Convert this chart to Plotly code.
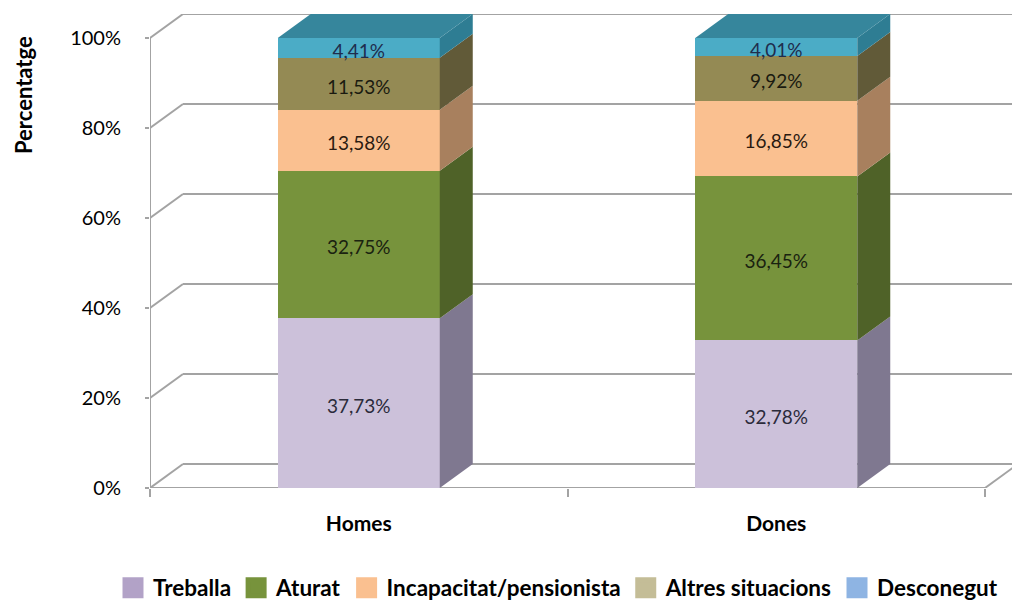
import plotly.graph_objects as go
import numpy as np

categories = ["Homes", "Dones"]
series_names = ["Treballa", "Aturat", "Incapacitat/pensionista", "Altres situacions", "Desconegut"]
treballa = [37.73, 32.78]
aturat = [32.75, 36.45]
incapacitat = [13.58, 16.85]
altres = [11.53, 9.92]
desconegut = [4.41, 4.01]
y_tickvals = [0, 20, 40, 60, 80, 100]
y_ticktext = ["0%", "20%", "40%", "60%", "80%", "100%"]

front_colors = ["#ccc1da", "#77933c", "#fac090", "#948a54", "#4bacc6"]
side_colors = ["#7f7890", "#4f6228", "#a8805e", "#615a38", "#2e7d93"]
top_color = "#36869c"
legend_colors = ["#b2a2c7", "#77933c", "#fac090", "#c4bd97", "#8eb4e3"]
label_colors = ["#2b2b3a", "#1a2210", "#2a1a10", "#1a1a10", "#1f2d4d"]

values = [treballa, aturat, incapacitat, altres, desconegut]

# geometry (page has an 8px body margin; targets below are page pixels)
OFF = 8
W, H = 1020 - OFF, 601 - OFF
page_left, page_top, page_bottom, page_right = 150, 14, 488, 1020
ml = page_left - OFF
mt = page_top - OFF
mb = H - (page_bottom - OFF)
mr = W - (page_right - OFF)
px_per_x = 417.5
px_per_y = 4.5
plot_w = W - ml - mr
plot_h = H - mt - mb
x_range = [-0.5, -0.5 + plot_w / px_per_x]
y_range = [0, plot_h / px_per_y]
dx = 33 / px_per_x
dy = 24 / px_per_y
bar_w = 162 / px_per_x
label_shift = 5 / px_per_y
FONT = "Lato"
grid_col = "#a3a3a3"


def paper_x(page_px):
    return (page_px - OFF - ml) / plot_w


def paper_y(page_py):
    return (page_bottom - page_py) / plot_h


fig = go.Figure()
xs = np.arange(len(categories))

# front faces
for name, vals, fc in zip(series_names, values, front_colors):
    fig.add_trace(go.Bar(x=xs, y=vals, name=name, marker=dict(color=fc, line=dict(width=0)),
                         width=bar_w, showlegend=False, hoverinfo="skip"))

# side faces and top faces
cum = np.zeros(len(categories))
for name, vals, sc in zip(series_names, values, side_colors):
    vals = np.array(vals)
    for i, xc in enumerate(xs):
        x1 = xc + bar_w / 2
        b, t = cum[i], cum[i] + vals[i]
        fig.add_trace(go.Scatter(x=[x1, x1 + dx, x1 + dx, x1, x1],
                                 y=[b, b + dy, t + dy, t, b],
                                 fill="toself", fillcolor=sc, mode="lines",
                                 line=dict(width=0, color=sc), showlegend=False, hoverinfo="skip"))
    cum = cum + vals
for i, xc in enumerate(xs):
    x0, x1 = xc - bar_w / 2, xc + bar_w / 2
    t = cum[i]
    fig.add_trace(go.Scatter(x=[x0, x1, x1 + dx, x0 + dx, x0],
                             y=[t, t, t + dy, t + dy, t],
                             fill="toself", fillcolor=top_color, mode="lines",
                             line=dict(width=0, color=top_color), showlegend=False, hoverinfo="skip"))

# labels
cum = np.zeros(len(categories))
for vals, lc in zip(values, label_colors):
    vals = np.array(vals)
    centers = cum + vals / 2 - label_shift
    fig.add_trace(go.Scatter(x=xs, y=centers, mode="text",
                             text=[f"{v:.2f}%".replace(".", ",") for v in vals],
                             textfont=dict(family=FONT, size=19, color=lc),
                             showlegend=False, hoverinfo="skip"))
    cum = cum + vals

# legend entries
for name, lc in zip(series_names, legend_colors):
    fig.add_trace(go.Scatter(x=[None], y=[None], mode="markers", name=name,
                             marker=dict(symbol="square", size=16, color=lc,
                                         line=dict(color=lc, width=5))))

# walls / grid
shapes = []
xl = -0.5
xr = len(categories) - 0.5
for v in y_tickvals:
    shapes.append(dict(type="line", xref="x", yref="y", x0=xl, y0=v, x1=xl + dx, y1=v + dy,
                       line=dict(color=grid_col, width=2), layer="below"))
    shapes.append(dict(type="line", xref="x", yref="y", x0=xl + dx, y0=v + dy, x1=xr + dx, y1=v + dy,
                       line=dict(color=grid_col, width=2), layer="below"))
shapes.append(dict(type="line", xref="x", yref="y", x0=xl, y0=0, x1=xr, y1=0,
                   line=dict(color=grid_col, width=2), layer="below"))
shapes.append(dict(type="line", xref="x", yref="y", x0=xr, y0=0, x1=xr + dx, y1=dy,
                   line=dict(color=grid_col, width=2), layer="below"))
shapes.append(dict(type="line", xref="x", yref="y", x0=xl, y0=0, x1=xl, y1=max(y_tickvals),
                   line=dict(color=grid_col, width=2), layer="below"))

fig.update_layout(
    width=W, height=H,
    margin=dict(l=ml, r=mr, t=mt, b=mb, autoexpand=False),
    barmode="stack",
    plot_bgcolor="white", paper_bgcolor="white",
    shapes=shapes,
    xaxis=dict(range=x_range, tickvals=list(xs), ticktext=categories, ticks="",
               showgrid=False, zeroline=False, showline=False,
               tickfont=dict(family=FONT, size=21, color="#000000", weight="bold"),
               ticklabelstandoff=21,
               minor=dict(tickvals=[-0.5, 0.5, 1.5], ticks="outside", ticklen=8, tickwidth=2,
                          tickcolor=grid_col, showgrid=False)),
    yaxis=dict(range=y_range, tickvals=y_tickvals, ticktext=y_ticktext, ticks="outside",
               ticklen=4, tickwidth=2, tickcolor=grid_col, showgrid=False, zeroline=False,
               showline=False, ticklabelstandoff=20,
               tickfont=dict(family=FONT, size=20, color="#000000")),
    legend=dict(orientation="h", x=paper_x(113), xanchor="left", y=paper_y(588), yanchor="middle",
                font=dict(family=FONT, size=22.5, color="#000000", weight="bold"),
                itemsizing="trace", traceorder="normal", bgcolor="rgba(0,0,0,0)"),
    annotations=[dict(text="<b>Percentatge</b>", xref="paper", yref="paper",
                      x=paper_x(23), y=paper_y(95), textangle=-90,
                      showarrow=False, xanchor="center", yanchor="middle",
                      font=dict(family=FONT, size=22, color="#000000"))],
)

fig.write_html("out.html")
